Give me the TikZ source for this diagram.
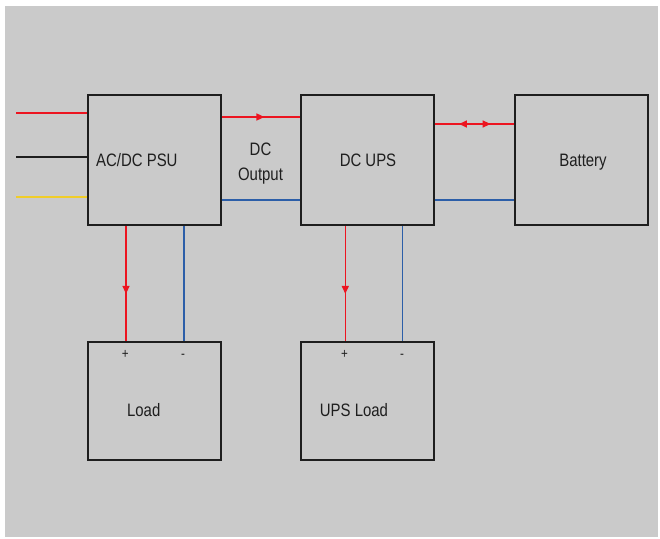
\documentclass[tikz,border=0pt]{standalone}
\usepackage{fontspec}
\setmainfont{Liberation Sans}[FakeStretch=0.83]
\usetikzlibrary{arrows.meta, decorations.markings}

\definecolor{bggray}{RGB}{202,202,202}
\definecolor{wirered}{RGB}{236,20,32}
\definecolor{wireblue}{RGB}{44,94,168}
\definecolor{wireyellow}{RGB}{240,205,40}
\definecolor{boxline}{RGB}{30,30,30}

\begin{document}
\begin{tikzpicture}[
  x=1pt, y=-1pt,
  blk/.style={rectangle, draw=boxline, line width=2pt, fill=bggray,
              minimum width=133pt, inner sep=0pt},
  txt/.style={inner sep=0pt, anchor=base, text=boxline,
              font=\fontsize{18}{22}\selectfont},
  pol/.style={inner sep=0pt, text=boxline, font=\fontsize{14}{16}\selectfont},
  poswire/.style={draw=wirered, line width=1.6pt},
  negwire/.style={draw=wireblue, line width=1.6pt},
  midarrow/.style={postaction={decorate}, decoration={markings,
    mark=at position #1 with {\arrow[wirered]{Triangle[length=8pt,width=7pt]}}}},
  twoarrow/.style={postaction={decorate}, decoration={markings,
    mark=at position 0.31 with {\arrowreversed[wirered]{Triangle[length=8pt,width=7pt]}},
    mark=at position 0.71 with {\arrow[wirered]{Triangle[length=8pt,width=7pt]}}}},
]

\useasboundingbox (0,0) rectangle (660,538);
\fill[bggray] (5,6) rectangle (658,537);

% ---- blocks ----
\node[blk, minimum height=130pt] (psu)     at (154,160) {};
\node[blk, minimum height=130pt] (ups)     at (367,160) {};
\node[blk, minimum height=130pt] (battery) at (581,160) {};
\node[blk, minimum height=118pt] (load)    at (154,401) {};
\node[blk, minimum height=118pt] (upsload) at (367,401) {};

% ---- block texts ----
\node[txt, anchor=base west] (psutext)  at (96,166)    {AC/DC PSU};
\node[txt] (upstext)     at (368,166)   {DC UPS};
\node[txt] (battext)     at (583,166)   {Battery};
\node[txt] (dcout)       at (260.5,155) {DC};
\node[txt] (dcout2)      at (260.5,180) {Output};
\node[txt] (loadtext)    at (143.7,416) {Load};
\node[txt] (upsloadtext) at (354,416)   {UPS Load};

% ---- polarity marks ----
\node[pol] (lplus)  at (125.3,354.7) {+};
\node[pol] (lminus) at (183,356.7)   {-};
\node[pol] (uplus)  at (344.5,354.7) {+};
\node[pol] (uminus) at (402,356.7)   {-};

% ---- AC input ----
\coordinate (inl) at (16,113);
\coordinate (inn) at (16,157);
\coordinate (ine) at (16,197);
\draw[draw=wirered, line width=1.4pt]    (inl) -- (psu.west |- inl);
\draw[draw=boxline, line width=1.4pt]    (inn) -- (psu.west |- inn);
\draw[draw=wireyellow, line width=1.2pt] (ine) -- (psu.west |- ine);

% ---- DC wiring ----
\draw[poswire, midarrow=0.55] (psu.east |- 0,117) -- (ups.west |- 0,117);
\draw[negwire] (psu.east |- 0,200) -- (ups.west |- 0,200);
\draw[poswire, twoarrow] (ups.east |- 0,124) -- (battery.west |- 0,124);
\draw[negwire] (ups.east |- 0,200) -- (battery.west |- 0,200);

\draw[poswire, midarrow=0.59] (psu.south -| 126,0) -- (load.north -| 126,0);
\draw[negwire] (psu.south -| 183.7,0) -- (load.north -| 183.7,0);
\draw[poswire, midarrow=0.59] (ups.south -| 345.3,0) -- (upsload.north -| 345.3,0);
\draw[negwire] (ups.south -| 402.3,0) -- (upsload.north -| 402.3,0);

\end{tikzpicture}
\end{document}
